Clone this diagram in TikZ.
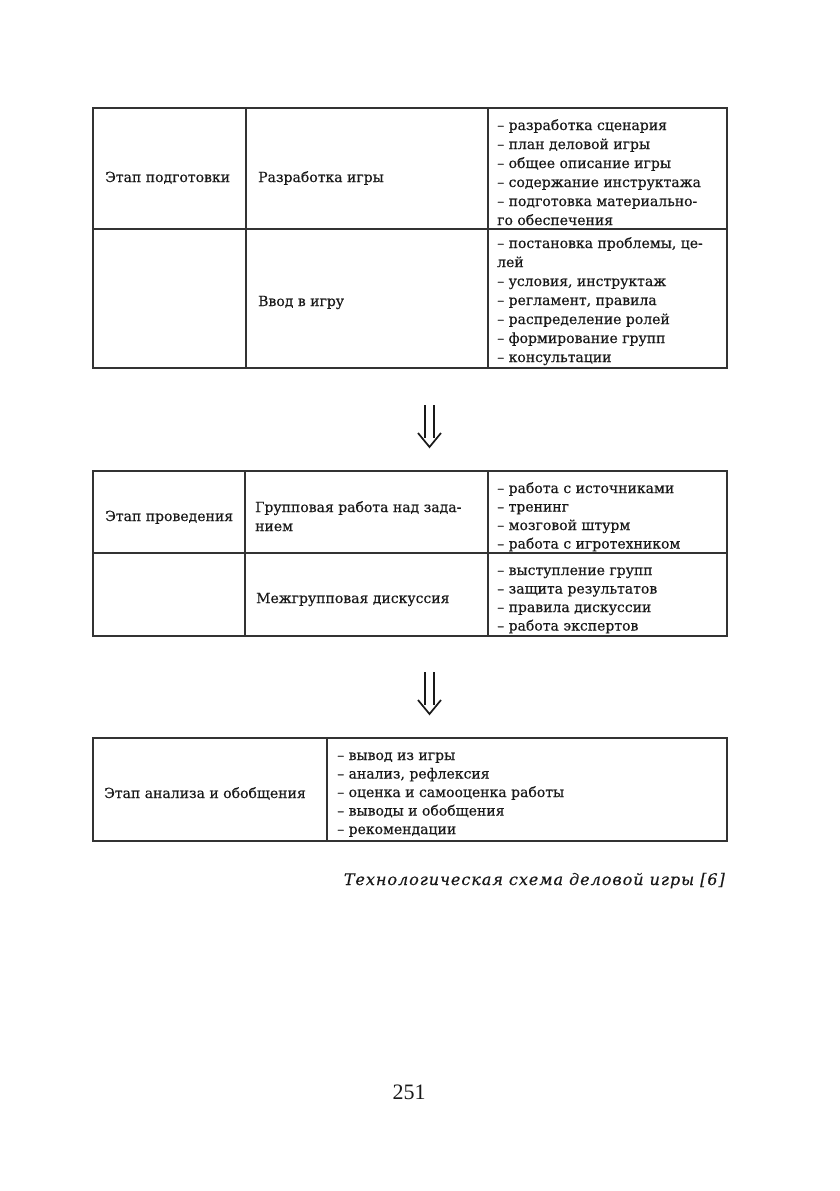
\documentclass[tikz,border=0pt]{standalone}
\usepackage{fontspec}
\setmainfont[FakeBold=0.4]{DejaVu Serif}
\newfontfamily\capfont[LetterSpace=6,FakeBold=0.3]{DejaVu Serif}
\newfontfamily\numfont{Liberation Serif}
\begin{document}
\begin{tikzpicture}[x=1pt,y=-1pt,
  frame/.style={draw=black!80,line width=1.1pt},
  txt/.style={anchor=base west,inner sep=0pt,text=black!90,font=\fontsize{14}{19}\selectfont},
  arr/.style={draw=black!90,line width=1.7pt}]
\useasboundingbox[fill=white] (0,0) rectangle (839,1191);
% ---------- table 1
\draw[frame] (93,108) rectangle (727,368);
\draw[frame] (246,108) -- (246,368) (488,108) -- (488,368) (93,229) -- (727,229);
\node[txt] (t1a) at (105,182) {Этап подготовки};
\node[txt] (t1b) at (258,182) {Разработка игры};
\node[txt] (t1c) at (258,306) {Ввод в игру};
\foreach \s [count=\i] in {{– разработка сценария},{– план деловой игры},{– общее описание игры},{– содержание инструктажа},{– подготовка материально-},{го обеспечения}}
  \node[txt] (t1l\i) at (497,111+19*\i) {\s};
\foreach \s [count=\i] in {{– постановка проблемы, це-},{лей},{– условия, инструктаж},{– регламент, правила},{– распределение ролей},{– формирование групп},{– консультации}}
  \node[txt] (t1m\i) at (497,229+19*\i) {\s};
% ---------- arrow 1
\coordinate (a1s) at (429.5,405);
\coordinate (a1e) at (429.5,447);
\draw[arr] ([xshift=-4.5]a1s) -- ([xshift=-4.5,yshift=9]a1e);
\draw[arr] ([xshift=4.5]a1s) -- ([xshift=4.5,yshift=9]a1e);
\draw[arr,line join=miter] ([xshift=-11.5,yshift=14]a1e) -- (a1e) -- ([xshift=11.5,yshift=14]a1e);
% ---------- table 2
\draw[frame] (93,471) rectangle (727,636);
\draw[frame] (245,471) -- (245,636) (488,471) -- (488,636) (93,553) -- (727,553);
\node[txt] (t2a) at (105,521) {Этап проведения};
\node[txt] (t2b) at (255,512) {Групповая работа над зада-};
\node[txt] (t2c) at (255,531) {нием};
\node[txt] (t2d) at (256,603) {Межгрупповая дискуссия};
\foreach \s [count=\i] in {{– работа с источниками},{– тренинг},{– мозговой штурм},{– работа с игротехником}}
  \node[txt] (t2l\i) at (497,474.5+18.5*\i) {\s};
\foreach \s [count=\i] in {{– выступление групп},{– защита результатов},{– правила дискуссии},{– работа экспертов}}
  \node[txt] (t2m\i) at (497,556.5+18.5*\i) {\s};
% ---------- arrow 2
\coordinate (a2s) at (429.5,672);
\coordinate (a2e) at (429.5,714);
\draw[arr] ([xshift=-4.5]a2s) -- ([xshift=-4.5,yshift=9]a2e);
\draw[arr] ([xshift=4.5]a2s) -- ([xshift=4.5,yshift=9]a2e);
\draw[arr,line join=miter] ([xshift=-11.5,yshift=14]a2e) -- (a2e) -- ([xshift=11.5,yshift=14]a2e);
% ---------- table 3
\draw[frame] (93,738) rectangle (727,841);
\draw[frame] (327,738) -- (327,841);
\node[txt] (t3a) at (104,798) {Этап анализа и обобщения};
\foreach \s [count=\i] in {{– вывод из игры},{– анализ, рефлексия},{– оценка и самооценка работы},{– выводы и обобщения},{– рекомендации}}
  \node[txt] (t3l\i) at (337,741.5+18.5*\i) {\s};
% ---------- caption
\node[anchor=base east,inner sep=0pt,text=black!90,font=\capfont\itshape\fontsize{16}{19}\selectfont] (cap) at (725,885) {Технологическая схема деловой игры [6]};
\node[anchor=base,inner sep=0pt,text=black!90,font=\numfont\fontsize{22}{26}\selectfont] (pg) at (409,1099) {251};
\end{tikzpicture}
\end{document}
